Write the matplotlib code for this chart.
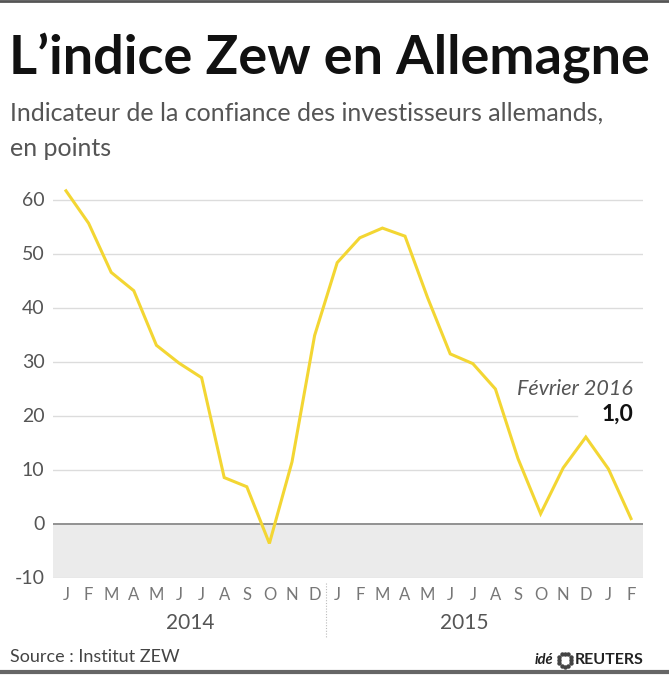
import matplotlib.pyplot as plt
import numpy as np

# ZEW indicator, Jan 2014 - Feb 2016
months = ["J", "F", "M", "A", "M", "J", "J", "A", "S", "O", "N", "D",
          "J", "F", "M", "A", "M", "J", "J", "A", "S", "O", "N", "D",
          "J", "F"]
zew = [61.7, 55.7, 46.6, 43.2, 33.1, 29.8, 27.1, 8.6, 6.9, -3.6, 11.5, 34.9,
       48.4, 53.0, 54.8, 53.3, 41.9, 31.5, 29.7, 25.0, 12.1, 1.9, 10.4, 16.1,
       10.2, 1.0]
yticks = [-10, 0, 10, 20, 30, 40, 50, 60]
years = ["2014", "2015"]

plt.rcParams['font.family'] = ['Lato', 'DejaVu Sans']

fig = plt.figure(figsize=(6.69, 6.75), dpi=100)
W, H = 669, 675

def px(x, y):
    return x / W, 1 - y / H

ax = fig.add_axes([53 / W, 1 - 578 / H, 590 / W, 405 / H])
x = np.arange(len(zew))
ax.set_xlim(-0.575, 25.53)
ax.set_ylim(-10, 65)

# grey negative zone
ax.axhspan(-10, 0, color="#ebebeb", zorder=0)
for t in yticks:
    if t == 0:
        ax.axhline(0, color="#8a8a8a", lw=1.3, zorder=1)
    elif t == 20:
        ax.plot([-0.575, 22.6], [t, t], color="#dcdcdc", lw=1, zorder=1)
    else:
        ax.axhline(t, color="#dcdcdc", lw=1, zorder=1)

ax.plot(x, zew, color="#f3d633", lw=2.2, zorder=3, solid_joinstyle="miter")

for s in ax.spines.values():
    s.set_visible(False)
ax.set_xticks([])
ax.set_yticks([])

for t in yticks:
    ax.text(-0.95, t, str(t), ha="right", va="center", fontsize=14,
            color="#555555")
for i, m in enumerate(months):
    ax.text(i, -13.2, m, ha="center", va="center", fontsize=12,
            color="#777777", clip_on=False)
ax.text(5.5, -18.3, years[0], ha="center", va="center", fontsize=15,
        color="#555555", clip_on=False)
ax.text(17.6, -18.3, years[1], ha="center", va="center", fontsize=15,
        color="#555555", clip_on=False)
ax.plot([11.5, 11.5], [-11, -21], color="#bbbbbb", lw=0.8, ls=(0, (1, 1.5)),
        clip_on=False)

ax.text(25.1, 25.0, "Février 2016", ha="right", va="center", fontsize=15.5,
        style="italic", color="#555555")
ax.text(25.1, 20.3, "1,0", ha="right", va="center", fontsize=16.5,
        fontweight="bold", color="#111111")

# titles
fig.text(*px(9, 58), "L\u2019indice Zew en Allemagne", fontsize=39,
         fontweight="bold", va="center", ha="left", color="#111111")
fig.text(*px(10, 113), "Indicateur de la confiance des investisseurs allemands,",
         fontsize=18, va="center", ha="left", color="#555555")
fig.text(*px(10, 148), "en points", fontsize=18, va="center", ha="left",
         color="#555555")

fig.text(*px(10, 657), "Source : Institut ZEW", fontsize=13, va="center",
         ha="left", color="#444444")
fig.text(*px(553, 660), "idé", fontsize=10.5, style="italic", fontweight="bold",
         va="center", ha="right", color="#222222")
cx, cy = px(565, 660)
ang = np.linspace(0, 2 * np.pi, 12, endpoint=False)
fig.add_artist(plt.Line2D(cx + 6.5 / W * np.cos(ang), cy + 6.5 / H * np.sin(ang),
                          ls="none", marker="o", ms=2.2, color="#444444",
                          transform=fig.transFigure))
fig.text(*px(575, 660), "REUTERS", fontsize=11.5, fontweight="bold", va="center",
         ha="left", color="#222222")

# frame lines top / bottom
fig.add_artist(plt.Line2D([0, 1], [1 - 1 / H, 1 - 1 / H], color="#555555", lw=2,
                          transform=fig.transFigure))
fig.add_artist(plt.Line2D([0, 1], [1 - 672 / H, 1 - 672 / H], color="#666666",
                          lw=3, transform=fig.transFigure))

fig.savefig("out.png", dpi=100)
